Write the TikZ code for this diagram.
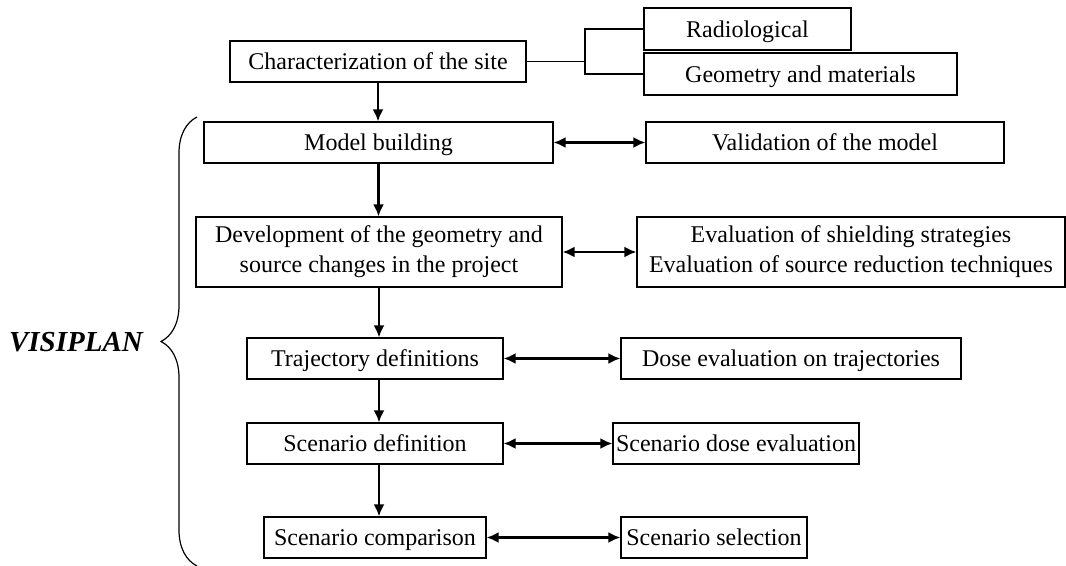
\documentclass[tikz,border=0pt]{standalone}
\usepackage{fontspec}
\setmainfont{Liberation Serif}
\usetikzlibrary{arrows.meta,decorations.pathreplacing}

\tikzset{
  box/.style={draw, line width=0.6pt, fill=white, inner sep=0pt, align=center,
    font=\fontsize{12}{15}\selectfont},
  onebox/.style={box, text height=10.2pt, text depth=1.8pt},
  flow/.style={line width=1.1pt, -{Latex[length=6pt,width=5.5pt]}},
  link/.style={line width=1.1pt, {Latex[length=6pt,width=5.5pt]}-{Latex[length=6pt,width=5.5pt]}}
}

\begin{document}
\begin{tikzpicture}[x=0.5pt, y=-0.5pt]
  \useasboundingbox (0,0) rectangle (1066,566);
  % main column
  \node (char) at (378,61.5) [onebox, minimum width=148pt, minimum height=20.5pt] {Characterization of the site};
  \node (model) at (378.5,142.5) [onebox, minimum width=174.5pt, minimum height=20.5pt] {Model building};
  \node (devel) at (379,252) [box, minimum width=183pt, minimum height=35pt] {Development of the geometry and\\source changes in the project};
  \node (traj) at (375,358.5) [onebox, minimum width=128pt, minimum height=20.5pt] {Trajectory definitions};
  \node (scdef) at (375,443.5) [onebox, minimum width=128pt, minimum height=20.5pt] {Scenario definition};
  \node (sccomp) at (375,537.5) [onebox, minimum width=111pt, minimum height=20.5pt] {Scenario comparison};
  % right column
  \node (rad) at (747.5,29) [onebox, minimum width=103.5pt, minimum height=21pt] {Radiological};
  \node (geo) at (800.5,74) [onebox, minimum width=156.5pt, minimum height=21pt] {Geometry and materials};
  \node (valid) at (825,142.5) [onebox, minimum width=179pt, minimum height=20.5pt] {Validation of the model};
  \node (evalu) at (851,252) [box, minimum width=214pt, minimum height=35pt] {Evaluation of shielding strategies\\Evaluation of source reduction techniques};
  \node (dose) at (791,358.5) [onebox, minimum width=170pt, minimum height=20.5pt] {Dose evaluation on trajectories};
  \node (scdose) at (736,443.5) [onebox, minimum width=123pt, minimum height=20.5pt] {Scenario dose evaluation};
  \node (scsel) at (714,537.5) [onebox, minimum width=93pt, minimum height=20.5pt] {Scenario selection};
  \coordinate (fork) at (585,61.5);

  \draw[line width=0.6pt] (char.east) -- (fork);
  \draw[line width=0.6pt] (rad.west) -| (fork) |- (geo.west);

  \draw[flow] (char.south) -- (char.south |- model.north);
  \draw[flow] (model.south) -- (model.south |- devel.north);
  \draw[flow] (devel.south) -- (devel.south |- traj.north);
  \draw[flow] (devel.south |- traj.south) -- (devel.south |- scdef.north);
  \draw[flow] (devel.south |- scdef.south) -- (devel.south |- sccomp.north);

  \draw[link] (model.east) -- (valid.west);
  \draw[link] (devel.east) -- (evalu.west);
  \draw[link] (traj.east) -- (dose.west);
  \draw[link] (scdef.east) -- (scdose.west);
  \draw[link] (sccomp.east) -- (scsel.west);

  % the VISIPLAN brace
  \coordinate (bbot) at (197,566);
  \coordinate (btop) at (197,117);
  \draw[line width=0.6pt, decorate, decoration={brace, amplitude=18pt}] (bbot) -- (btop);
  \node (visi) at (76,342) [font=\fontsize{14.5}{16}\selectfont\bfseries\itshape] {VISIPLAN};
\end{tikzpicture}
\end{document}
